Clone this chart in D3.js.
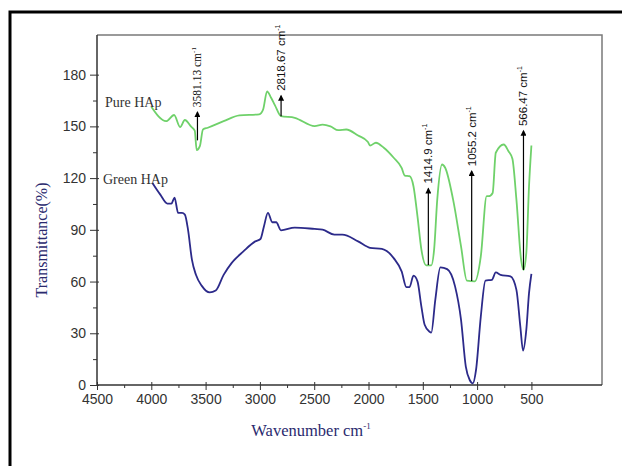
<!DOCTYPE html>
<html lang="en">
<head>
    <meta charset="UTF-8">
    <title>FTIR spectra of HAp</title>
    <style>
        body { margin: 0; background: #fff; }
        .tick text { font-family: "Liberation Sans", Arial, sans-serif; font-size: 14px; fill: #333; }
        .serif { font-family: "Liberation Serif", "Times New Roman", serif; }
        .peak-label { font-family: "Liberation Sans", Arial, sans-serif; fill: #111; }
    </style>
</head>
<body>
    <svg width="622" height="466"></svg>

    <script src="https://d3js.org/d3.v7.min.js"></script>
    <script>

        // Values

        const pureWave = [4000, 3863, 3790, 3735, 3691, 3633, 3600, 3582, 3553, 3524, 3480, 3334, 3189, 3006,
            2970, 2934, 2897, 2861, 2806, 2679, 2496, 2423, 2350, 2278, 2205, 2096, 2005, 1986, 1932, 1859,
            1768, 1695, 1666, 1622, 1586, 1549, 1513, 1469, 1422, 1396, 1367, 1323, 1294, 1221, 1148, 1094,
            1021, 966, 912, 893, 857, 828, 755, 711, 675, 638, 595, 573, 547, 522, 500];
        const pureTrans = [161.4, 153, 156.6, 149.6, 153.7, 149.8, 147.5, 136.2, 138.5, 148.2, 149.2, 153, 156.4, 157,
            159.9, 170.3, 166.6, 162.2, 156, 155, 150.2, 151, 150, 147.8, 148.2, 144.7, 140.9, 138.9, 140.5, 137.6,
            131.8, 126, 121.5, 121.1, 115.3, 97.8, 78.5, 69.4, 69.4, 78.5, 107.5, 127.9, 126, 107.5, 80.4, 60.5,
            60.1, 74.6, 109.5, 109.5, 111.4, 134.7, 139.5, 135.6, 131.2, 107.5, 72.7, 66.8, 76.5, 115.3, 138.9];

        const greenWave = [3990, 3917, 3852, 3815, 3786, 3753, 3717, 3691, 3662, 3626, 3589, 3535, 3462, 3407,
            3334, 3261, 3152, 3043, 2995, 2963, 2926, 2886, 2850, 2806, 2679, 2496, 2423, 2314, 2241, 2096,
            1986, 1877, 1768, 1695, 1651, 1622, 1586, 1549, 1513, 1483, 1440, 1422, 1385, 1338, 1276, 1203,
            1148, 1104, 1068, 1039, 1010, 966, 923, 864, 828, 784, 693, 638, 602, 577, 547, 522, 500];
        const greenTrans = [117.2, 110.4, 105.2, 105.2, 108.7, 99.8, 99.8, 98.8, 90.1, 72.7, 63.9, 57.5, 53.7, 54.8,
            63.9, 70.7, 77.5, 83.3, 84.7, 92, 99.8, 94.4, 94.4, 89.7, 91.3, 90.5, 90.1, 87.2, 87.2, 83.3,
            79.6, 78.9, 73.6, 65.9, 56.8, 56.8, 63.4, 60.1, 45.5, 34.9, 31, 30.4, 49.4, 68.2, 67.2, 57.2,
            37.8, 10.7, 2.9, 1, 8.7, 39.7, 60.6, 61, 65.3, 63.9, 63, 55.2, 33.9, 20, 32, 53.3, 64.5];

        const seriesNames = ['Pure HAp', 'Green HAp'];

        // Peak annotations: label, arrow position, arrow foot and head (transmittance)
        const peakLabels = ['3581.13', '2818.67', '1414.9', '1055.2', '566.47'];
        const peakWave = [3575, 2805, 1449, 1050, 573];
        const peakFrom = [141.9, 155.9, 69.6, 60.3, 66.7];
        const peakTo = [158.2, 167.7, 113.9, 124, 147.3];

        const xTicks = [4500, 4000, 3500, 3000, 2500, 2000, 1500, 1000, 500];
        const xMinor = [4250, 3750, 3250, 2750, 2250, 1750, 1250, 750];
        const yTicks = [0, 30, 60, 90, 120, 150, 180];
        const yMinor = [15, 45, 75, 105, 135, 165];

        const svg = d3.select('svg');

        const plot = { left: 97, right: 602, top: 35, bottom: 385 };

        const x = d3.scaleLinear().domain([4500, -150]).range([plot.left, plot.right]);
        const y = d3.scaleLinear().domain([0, 203]).range([plot.bottom, plot.top]);

        // outer border of the figure
        svg.append('rect')
            .attr('x', 10).attr('y', 12)
            .attr('width', 630).attr('height', 470)
            .attr('fill', 'none')
            .attr('stroke', '#000')
            .attr('stroke-width', 3);

        // top and right frame (grey)
        svg.append('path')
            .attr('d', 'M' + plot.left + ',' + plot.top + 'H' + plot.right + 'V' + plot.bottom)
            .attr('fill', 'none')
            .attr('stroke', '#7a7a7a')
            .attr('stroke-width', 1.5);

        // minor ticks
        svg.append('g')
            .attr('transform', 'translate(0,' + plot.bottom + ')')
            .call(d3.axisBottom(x).tickValues(xMinor).tickSize(3).tickFormat(''))
            .call(g => g.select('.domain').remove())
            .selectAll('line').attr('stroke', '#333');

        svg.append('g')
            .attr('transform', 'translate(' + plot.left + ',0)')
            .call(d3.axisLeft(y).tickValues(yMinor).tickSize(4).tickFormat(''))
            .call(g => g.select('.domain').remove())
            .selectAll('line').attr('stroke', '#333');

        // major axes
        const xAxis = svg.append('g')
            .attr('transform', 'translate(0,' + plot.bottom + ')')
            .call(d3.axisBottom(x).tickValues(xTicks).tickFormat(d3.format('d'))
                .tickSizeInner(5).tickSizeOuter(0).tickPadding(4));
        xAxis.select('.domain').attr('stroke', '#333').attr('stroke-width', 1.5)
            .attr('d', 'M' + plot.left + ',0H' + plot.right);
        xAxis.selectAll('.tick line').attr('stroke', '#333').attr('y1', -3);

        const yAxis = svg.append('g')
            .attr('transform', 'translate(' + plot.left + ',0)')
            .call(d3.axisLeft(y).tickValues(yTicks).tickFormat(d3.format('d'))
                .tickSizeInner(7).tickSizeOuter(0).tickPadding(4));
        yAxis.select('.domain').attr('stroke', '#333').attr('stroke-width', 1.5)
            .attr('d', 'M0,' + plot.top + 'V' + plot.bottom);
        yAxis.selectAll('.tick line').attr('stroke', '#333').attr('x1', 2);

        // spectra
        const line = d3.line()
            .x(d => x(d[0]))
            .y(d => y(d[1]))
            .curve(d3.curveMonotoneX);

        const spectra = [
            { name: seriesNames[0], color: '#6fd16a', pts: d3.zip(pureWave, pureTrans) },
            { name: seriesNames[1], color: '#2c2a8a', pts: d3.zip(greenWave, greenTrans) }
        ];

        svg.selectAll('path.spectrum')
            .data(spectra)
            .enter()
            .append('path')
            .attr('class', 'spectrum')
            .attr('d', d => line(d.pts))
            .attr('fill', 'none')
            .attr('stroke', d => d.color)
            .attr('stroke-width', 1.8);

        // series names
        svg.append('text').attr('class', 'serif')
            .attr('x', 105).attr('y', 107)
            .attr('font-size', 14).attr('fill', '#333')
            .text(seriesNames[0]);
        svg.append('text').attr('class', 'serif')
            .attr('x', 103).attr('y', 184)
            .attr('font-size', 14).attr('fill', '#333')
            .text(seriesNames[1]);

        // arrow head marker
        svg.append('defs').append('marker')
            .attr('id', 'head')
            .attr('viewBox', '0 0 10 10')
            .attr('refX', 8).attr('refY', 5)
            .attr('markerWidth', 7).attr('markerHeight', 6)
            .attr('markerUnits', 'userSpaceOnUse')
            .attr('orient', 'auto')
            .append('path')
            .attr('d', 'M0,0L10,5L0,10Z')
            .attr('fill', '#000');

        peakLabels.forEach(function (lab, i) {
            const px = x(peakWave[i]);
            svg.append('line')
                .attr('x1', px).attr('x2', px)
                .attr('y1', y(peakFrom[i])).attr('y2', y(peakTo[i]))
                .attr('stroke', '#000')
                .attr('stroke-width', 1.2)
                .attr('marker-end', 'url(#head)');

            const t = svg.append('text')
                .attr('class', i === 0 ? 'serif' : 'peak-label')
                .attr('font-size', 11.5)
                .attr('fill', '#111')
                .attr('transform', 'translate(' + (px + 4) + ',' + (y(peakTo[i]) - 5) + ') rotate(-90)');
            t.append('tspan').text(lab + ' cm');
            t.append('tspan').attr('dy', -5).attr('font-size', 7).text('-1');
        });

        // axis titles
        svg.append('text').attr('class', 'serif')
            .attr('transform', 'translate(47,240) rotate(-90)')
            .attr('text-anchor', 'middle')
            .attr('font-size', 16)
            .attr('fill', '#2a2a6e')
            .text('Transmittance(%)');

        const xt = svg.append('text').attr('class', 'serif')
            .attr('x', 311).attr('y', 436)
            .attr('text-anchor', 'middle')
            .attr('font-size', 16.5)
            .attr('fill', '#2a2a6e');
        xt.append('tspan').text('Wavenumber cm');
        xt.append('tspan').attr('dy', -7).attr('font-size', 9).text('-1');

    </script>
</body>
</html>
